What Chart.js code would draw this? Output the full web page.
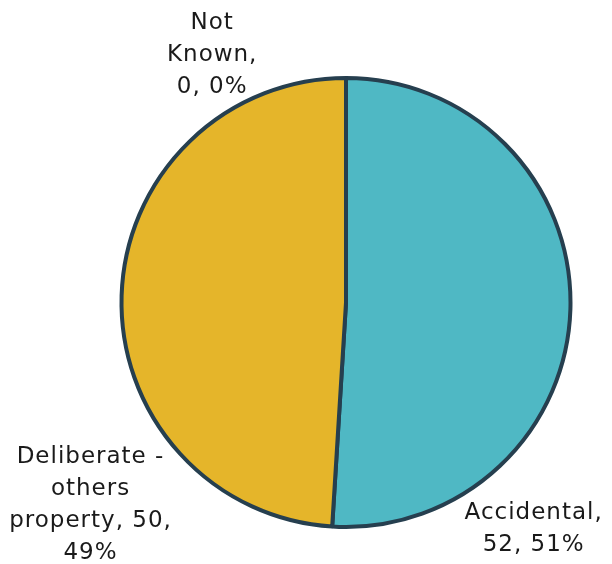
<!DOCTYPE html>
<html>
<head>
<meta charset="utf-8">
<script src="https://cdn.jsdelivr.net/npm/chart.js@4.4.0/dist/chart.umd.min.js"></script>
<style>
  html, body { margin: 0; padding: 0; background: #fff; }
  #wrap { width: 612px; height: 564px; }
</style>
</head>
<body>
<div id="wrap"><canvas id="pie-chart" width="612" height="564"></canvas></div>
<script>
// data
var categories = ["Accidental", "Deliberate - others property", "Not Known"];
var values = [52, 50, 0];
var percents = ["51%", "49%", "0%"];
// how each label is broken over lines
var labelLines = [
    ["Accidental,", "52, 51%"],
    ["Deliberate -", "others", "property, 50,", "49%"],
    ["Not", "Known,", "0, 0%"]
];

// label block centres, in units of the pie radius from its centre
var labelOffsets = [
    { dx: 0.836, dy: 1.007 },
    { dx: -1.138, dy: 0.904 },
    { dx: -0.596, dy: -1.104 }
];

var outsideLabels = {
    id: 'outsideLabels',
    afterDatasetsDraw: function (chart) {
        var ctx = chart.ctx;
        var arcs = chart.getDatasetMeta(0).data;
        ctx.save();
        ctx.font = '23px "DejaVu Sans", sans-serif';
        ctx.letterSpacing = '1px';
        ctx.fillStyle = '#1a1a1a';
        ctx.textAlign = 'center';
        ctx.textBaseline = 'middle';
        var lineH = 32;
        arcs.forEach(function (arc, i) {
            var p = arc.getProps(['x', 'y', 'outerRadius'], true);
            var cx = p.x + labelOffsets[i].dx * p.outerRadius;
            var cy = p.y + labelOffsets[i].dy * p.outerRadius;
            var lines = labelLines[i];
            var top = cy - (lines.length - 1) * lineH / 2;
            lines.forEach(function (t, k) {
                ctx.fillText(t, cx, top + k * lineH);
            });
        });
        ctx.restore();
    }
};

new Chart(document.getElementById("pie-chart"), {
    type: 'pie',
    data: {
        labels: categories,
        datasets: [{
            data: values,
            backgroundColor: ["#4fb8c4", "#e5b52a", "#8a8a8a"],
            borderColor: "#263f4f",
            borderWidth: 4
        }]
    },
    options: {
        responsive: false,
        animation: false,
        layout: { padding: { left: 119, right: 39, top: 76, bottom: 35 } },
        plugins: {
            legend: { display: false },
            tooltip: { enabled: false }
        }
    },
    plugins: [outsideLabels]
});
</script>
</body>
</html>
